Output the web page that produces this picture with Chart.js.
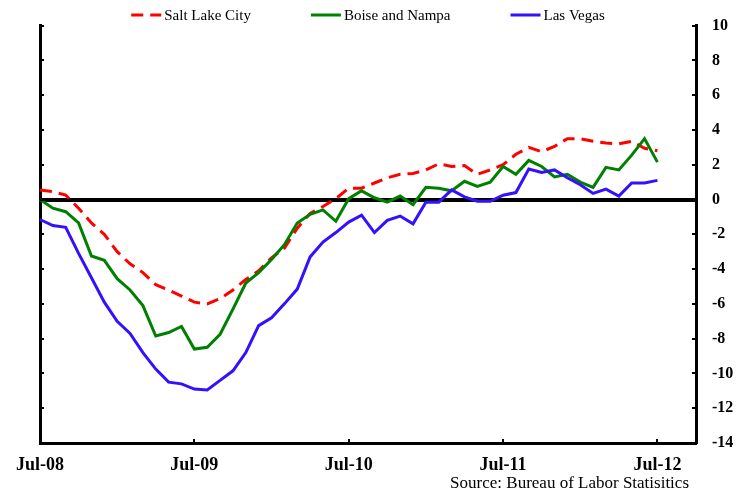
<!DOCTYPE html>
<html>
<head>
<meta charset="utf-8">
<script src="https://cdn.jsdelivr.net/npm/chart.js@4"></script>
<style>
  html, body { margin: 0; padding: 0; background: #ffffff; }
  #wrap { position: relative; width: 754px; height: 491px; }
</style>
</head>
<body>
<div id="wrap"><canvas id="jobs-chart"></canvas></div>
<script>
/* ----------------------------
   DATA
   Monthly year-over-year job growth (%), Jul-08 to Jul-12.
   The axis runs on to Oct-12, which has no data.
   ---------------------------- */
var months = [
  "Jul-08", "Aug-08", "Sep-08", "Oct-08", "Nov-08", "Dec-08",
  "Jan-09", "Feb-09", "Mar-09", "Apr-09", "May-09", "Jun-09",
  "Jul-09", "Aug-09", "Sep-09", "Oct-09", "Nov-09", "Dec-09",
  "Jan-10", "Feb-10", "Mar-10", "Apr-10", "May-10", "Jun-10",
  "Jul-10", "Aug-10", "Sep-10", "Oct-10", "Nov-10", "Dec-10",
  "Jan-11", "Feb-11", "Mar-11", "Apr-11", "May-11", "Jun-11",
  "Jul-11", "Aug-11", "Sep-11", "Oct-11", "Nov-11", "Dec-11",
  "Jan-12", "Feb-12", "Mar-12", "Apr-12", "May-12", "Jun-12",
  "Jul-12", "Aug-12", "Sep-12", "Oct-12"
];

var shownLabels = ["Jul-08", "Jul-09", "Jul-10", "Jul-11", "Jul-12"];

var saltLake = [
  0.55, 0.45, 0.25, -0.5, -1.35, -2.0, -3.0, -3.7, -4.2, -4.9,
  -5.2, -5.55, -5.9, -6.0, -5.7, -5.2, -4.6, -4.1, -3.35, -2.8,
  -1.65, -0.8, -0.4, 0.05, 0.65, 0.65, 0.95, 1.25, 1.45, 1.5,
  1.7, 2.05, 1.9, 1.95, 1.45, 1.7, 2.0, 2.6, 3.0, 2.75,
  3.05, 3.5, 3.5, 3.35, 3.25, 3.2, 3.35, 2.95, 2.8
];

var boise = [
  0, -0.5, -0.7, -1.35, -3.25, -3.5, -4.55, -5.2, -6.1, -7.85,
  -7.65, -7.3, -8.6, -8.5, -7.75, -6.3, -4.8, -4.2, -3.45, -2.6,
  -1.35, -0.85, -0.6, -1.25, 0.05, 0.5, 0.1, -0.15, 0.2, -0.3,
  0.7, 0.65, 0.5, 1.05, 0.75, 1.0, 1.9, 1.45, 2.25, 1.9,
  1.3, 1.45, 1.0, 0.7, 1.85, 1.7, 2.55, 3.5, 2.15
];

var lasVegas = [
  -1.15, -1.5, -1.6, -3.1, -4.5, -5.9, -7.0, -7.7, -8.8, -9.75,
  -10.5, -10.6, -10.9, -10.95, -10.4, -9.85, -8.8, -7.25, -6.8, -6.0,
  -5.15, -3.3, -2.45, -1.9, -1.3, -0.9, -1.9, -1.2, -0.95, -1.4,
  -0.15, -0.15, 0.55, 0.15, -0.1, -0.1, 0.25, 0.4, 1.75, 1.55,
  1.7, 1.25, 0.85, 0.35, 0.6, 0.2, 0.95, 0.95, 1.1
];

var yMin = -14;
var yMax = 10;
var yStep = 2;

var sourceNote = "Source: Bureau of Labor Statisitics";

var serif = "'Liberation Serif', 'Times New Roman', serif";

/* ----------------------------
   DECORATION PLUGIN
   Inside tick marks, the legend across the top
   and the source note under the axis.
   ---------------------------- */
var decorPlugin = {
  id: "decor",
  afterDraw: function (chart) {
    var ctx = chart.ctx;
    var area = chart.chartArea;
    var xs = chart.scales.x;
    var ys = chart.scales.y;

    ctx.save();
    ctx.strokeStyle = "#000000";
    ctx.lineWidth = 2;
    ctx.beginPath();

    // y ticks, pointing inward on both sides
    ys.ticks.forEach(function (t) {
      var py = Math.round(ys.getPixelForValue(t.value));
      ctx.moveTo(area.left, py);
      ctx.lineTo(area.left + 4, py);
      ctx.moveTo(area.right - 4, py);
      ctx.lineTo(area.right, py);
    });

    // x ticks only at the labelled months
    shownLabels.forEach(function (lab) {
      var px = Math.round(xs.getPixelForValue(months.indexOf(lab)));
      ctx.moveTo(px, area.bottom);
      ctx.lineTo(px, area.bottom - 4);
    });
    ctx.stroke();

    // legend
    var items = chart.data.datasets;
    var sample = 30;
    var gap = 60;
    ctx.font = "15px " + serif;
    var widths = items.map(function (d) {
      return sample + 3 + ctx.measureText(d.label).width;
    });
    var total = widths.reduce(function (a, b) { return a + b; }, 0) + gap * (items.length - 1);
    var lx = (area.left + area.right) / 2 - total / 2;
    var ly = 15;
    items.forEach(function (d, i) {
      ctx.strokeStyle = d.borderColor;
      ctx.lineWidth = 3;
      ctx.setLineDash(d.borderDash || []);
      ctx.beginPath();
      ctx.moveTo(lx, ly);
      ctx.lineTo(lx + sample, ly);
      ctx.stroke();
      ctx.setLineDash([]);
      ctx.fillStyle = "#000000";
      ctx.textAlign = "left";
      ctx.textBaseline = "middle";
      ctx.fillText(d.label, lx + sample + 3, ly + 1);
      lx += widths[i] + gap;
    });

    // source note
    ctx.font = "17px " + serif;
    ctx.textAlign = "right";
    ctx.textBaseline = "middle";
    ctx.fillStyle = "#000000";
    ctx.fillText(sourceNote, area.right - 7, 484);

    ctx.restore();
  }
};

/* ----------------------------
   CHART
   ---------------------------- */
var canvas = document.getElementById("jobs-chart");
var ctx = canvas.getContext("2d");

var jobsChart = new Chart(ctx, {
  type: "line",
  data: {
    labels: months,
    datasets: [
      {
        label: "Salt Lake City",
        data: saltLake,
        borderColor: "#ff0000",
        borderWidth: 3,
        borderDash: [12, 7],
        pointRadius: 0,
        tension: 0,
        fill: false,
        order: 3
      },
      {
        label: "Boise and Nampa",
        data: boise,
        borderColor: "#008000",
        borderWidth: 3,
        pointRadius: 0,
        tension: 0,
        fill: false,
        order: 2
      },
      {
        label: "Las Vegas",
        data: lasVegas,
        borderColor: "#3311ff",
        borderWidth: 3,
        pointRadius: 0,
        tension: 0,
        fill: false,
        order: 1
      }
    ]
  },
  options: {
    responsive: true,
    maintainAspectRatio: false,
    animation: false,
    layout: { padding: { top: 23, right: 0, bottom: 0, left: 0 } },
    plugins: {
      legend: { display: false },
      tooltip: { enabled: false }
    },
    scales: {
      x: {
        offset: false,
        grid: { display: false, drawTicks: false },
        border: { display: true, color: "#000000", width: 3 },
        ticks: {
          autoSkip: false,
          maxRotation: 0,
          padding: 12,
          color: "#000000",
          font: { family: serif, size: 18, weight: "bold" },
          callback: function (value) {
            var lab = this.getLabelForValue(value);
            return shownLabels.indexOf(lab) >= 0 ? lab : "";
          }
        },
        afterFit: function (scale) { scale.height = 48; }
      },
      y: {
        position: "left",
        min: yMin,
        max: yMax,
        ticks: { display: false, stepSize: yStep },
        grid: {
          drawTicks: false,
          color: function (c) { return c.tick && c.tick.value === 0 ? "#000000" : "rgba(0,0,0,0)"; },
          lineWidth: function (c) { return c.tick && c.tick.value === 0 ? 4 : 0; }
        },
        border: { display: true, color: "#000000", width: 3 },
        afterFit: function (scale) { scale.width = 40; }
      },
      y2: {
        position: "right",
        min: yMin,
        max: yMax,
        ticks: {
          stepSize: yStep,
          padding: 16,
          color: "#000000",
          font: { family: serif, size: 16, weight: "bold" }
        },
        grid: { display: false, drawTicks: false },
        border: { display: true, color: "#000000", width: 3 },
        afterFit: function (scale) { scale.width = 58; }
      }
    }
  },
  plugins: [decorPlugin]
});
</script>
</body>
</html>
